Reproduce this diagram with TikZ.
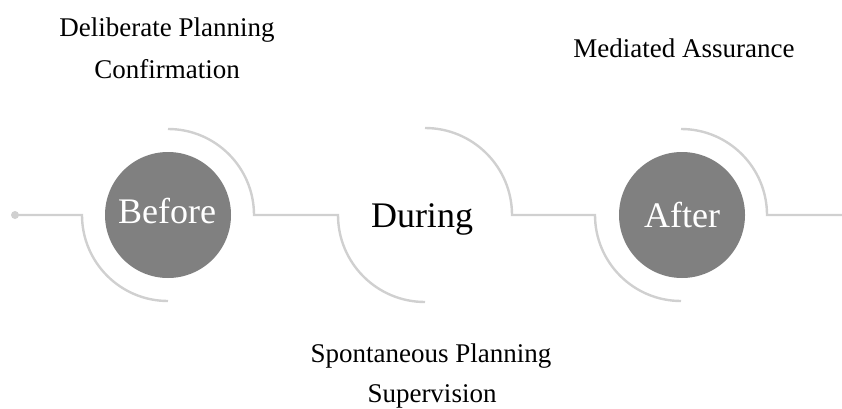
\documentclass[tikz,border=0pt]{standalone}
\usepackage{fontspec}
\setmainfont{Liberation Serif}
\definecolor{linegray}{RGB}{208,208,208}
\definecolor{circgray}{RGB}{128,128,128}
\begin{document}
\begin{tikzpicture}[x=1pt,y=1pt,
  track/.style={draw=linegray,line width=2.4pt},
  stage/.style={circle,fill=circgray,minimum size=126pt,inner sep=0pt},
  bigtext/.style={font=\fontsize{36}{40}\selectfont,anchor=base},
  label/.style={font=\fontsize{27}{30}\selectfont,anchor=base,text=black}]
\useasboundingbox (0,0) rectangle (842,408);
% circles
\node[stage] (before) at (168,193) {};
\node[stage] (after) at (682,193) {};
\node[bigtext,text=white] (tbefore) at (167,185) {Before};
\node[bigtext,text=black] (tduring) at (422,181) {During};
\node[bigtext,text=white] (tafter) at (682,181) {After};
% track
\fill[linegray] (15,193) circle (4pt);
\coordinate (start) at (15,193);
\coordinate (b1) at (82,193);
\coordinate (b2) at (168,279);
\coordinate (b3) at (254,193);
\coordinate (d1) at (338,193);
\coordinate (d2) at (425,280);
\coordinate (d3) at (512,193);
\coordinate (a1) at (595,193);
\coordinate (a2) at (681,279);
\coordinate (a3) at (767,193);
\coordinate (end) at (842,193);
\draw[track] (start) -- (b1) arc[start angle=180,end angle=270,radius=86pt];
\draw[track] (b2) arc[start angle=90,end angle=0,radius=86pt] -- (d1)
  arc[start angle=180,end angle=270,radius=87pt];
\draw[track] (d2) arc[start angle=90,end angle=0,radius=87pt] -- (a1)
  arc[start angle=180,end angle=270,radius=86pt];
\draw[track] (a2) arc[start angle=90,end angle=0,radius=86pt] -- (end);
% labels
\node[label] (dp1) at (167,371) {Deliberate Planning};
\node[label] (dp2) at (167,330) {Confirmation};
\node[label] (ma) at (684,350) {Mediated Assurance};
\node[label] (sp1) at (431,46) {Spontaneous Planning};
\node[label] (sp2) at (432,6) {Supervision};
\end{tikzpicture}
\end{document}
